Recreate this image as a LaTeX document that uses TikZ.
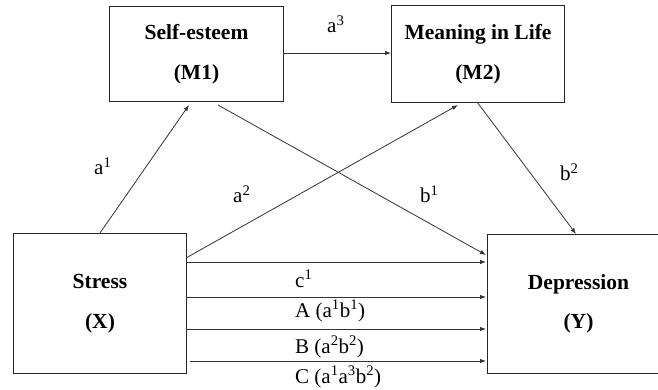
\documentclass[tikz,border=0pt]{standalone}
\usepackage{fontspec}
\setmainfont{Liberation Serif}
\usetikzlibrary{arrows.meta}
\begin{document}
\begin{tikzpicture}[x=1pt,y=-1pt,
  boxnode/.style={draw=black!85,line width=1pt,inner sep=0pt,anchor=north west,align=center,
    font=\fontsize{21.5}{39.5}\selectfont\bfseries},
  conn/.style={draw=black!80,line width=0.8pt,-{Latex[length=6pt,width=4.5pt]}},
  lbl/.style={anchor=base west,inner sep=0pt,font=\fontsize{21}{24}\selectfont}]
\useasboundingbox (0,0) rectangle (658,390);
\fill[white] (0,0) rectangle (658,390);
% boxes
\node[boxnode,minimum width=174pt,minimum height=95pt] (M1) at (109,6) {Self-esteem\\(M1)};
\node[boxnode,minimum width=173pt,minimum height=97pt] (M2) at (391,5) {Meaning in Life\\(M2)};
\node[boxnode,minimum width=173pt,minimum height=140pt] (X) at (13,233) {Stress\\(X)};
\node[boxnode,minimum width=182pt,minimum height=139pt] (Y) at (487,234) {Depression\\(Y)};
% anchor coordinates
\coordinate (a1s) at (100,233);
\coordinate (a1e) at (189,105);
\coordinate (a2s) at (186,258);
\coordinate (a2e) at (458,105);
\coordinate (b1s) at (218,105);
\coordinate (b1e) at (486,255);
\coordinate (b2s) at (477,102);
\coordinate (b2e) at (576,234);
\coordinate (a3s) at (283,53);
\coordinate (a3e) at (391,53);
\coordinate (h1s) at (186,262); \coordinate (h1e) at (486,262);
\coordinate (h2s) at (186,297); \coordinate (h2e) at (486,297);
\coordinate (h3s) at (186,329); \coordinate (h3e) at (486,329);
\coordinate (h4s) at (190,361); \coordinate (h4e) at (486,361);
% connectors
\draw[conn] (a1s) -- (a1e);
\draw[conn] (a2s) -- (a2e);
\draw[conn] (b1s) -- (b1e);
\draw[conn] (b2s) -- (b2e);
\draw[conn] (a3s) -- (a3e);
\draw[conn] (h1s) -- (h1e);
\draw[conn] (h2s) -- (h2e);
\draw[conn] (h3s) -- (h3e);
\draw[conn] (h4s) -- (h4e);
% labels
\node[lbl] (la3) at (327,33) {a\textsuperscript{3}};
\node[lbl] (la1) at (94,175) {a\textsuperscript{1}};
\node[lbl] (la2) at (233,203) {a\textsuperscript{2}};
\node[lbl] (lb1) at (420,203) {b\textsuperscript{1}};
\node[lbl] (lb2) at (560,181) {b\textsuperscript{2}};
\node[lbl] (lc1) at (295,287) {c\textsuperscript{1}};
\node[lbl] (lA) at (295,317) {A (a\textsuperscript{1}b\textsuperscript{1})};
\node[lbl] (lB) at (295,353) {B (a\textsuperscript{2}b\textsuperscript{2})};
\node[lbl] (lC) at (295,383) {C (a\textsuperscript{1}a\textsuperscript{3}b\textsuperscript{2})};
\end{tikzpicture}
\end{document}
